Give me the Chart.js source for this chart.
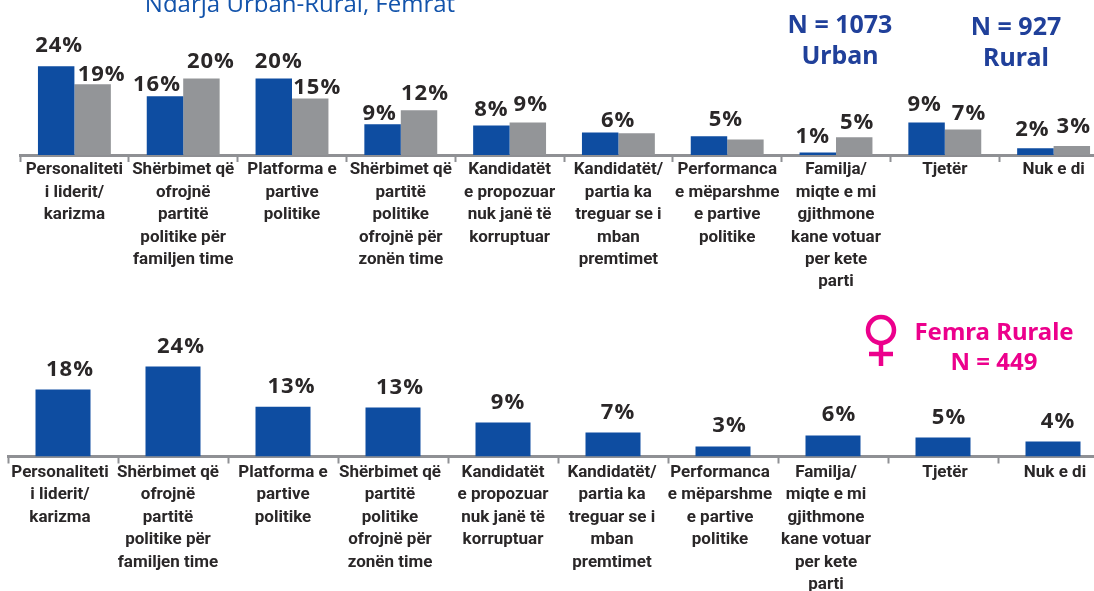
<!DOCTYPE html>
<html><head><meta charset="utf-8">
<script src="https://cdn.jsdelivr.net/npm/chart.js@4"></script>
<style>
html,body{margin:0;padding:0;background:#fff;overflow:hidden;width:1094px;height:591px}
#wrap{position:relative;width:1094px;height:591px;overflow:hidden}
canvas{position:absolute;left:0}
.t{position:absolute;transform:translate(-50%,-50%);white-space:nowrap;font-family:"Noto Sans",sans-serif}
.n{font-weight:700;font-size:25px;color:#20409a}
.p{font-weight:700;font-size:24px;color:#ec008c}
</style></head><body>
<div id="wrap">
<div style="position:absolute;left:0;top:0;width:1094px;height:300px"><canvas id="c1"></canvas></div>
<div style="position:absolute;left:0;top:300px;width:1094px;height:291px"><canvas id="c2"></canvas></div>
<div class="t" style="left:300px;top:2px;font-size:24px;color:#1253ab;font-family:'Open Sans'">Ndarja Urban-Rural, Femrat</div>
<div class="t n" style="left:840px;top:23px">N = 1073</div>
<div class="t n" style="left:840px;top:54px">Urban</div>
<div class="t n" style="left:1016px;top:25px">N = 927</div>
<div class="t n" style="left:1016px;top:56px">Rural</div>
<div class="t p" style="left:994px;top:330px">Femra Rurale</div>
<div class="t p" style="left:994px;top:360px">N = 449</div>
<svg style="position:absolute;left:860px;top:310px" width="44" height="62"><g fill="none" stroke="#ec008c" stroke-width="4.5"><circle cx="21" cy="20" r="13"/><path d="M21 33V56M9 44H33"/></g></svg>
</div>
<script>
const categoriesTop = [
 ["Personaliteti","i liderit/","karizma"],
 ["Shërbimet që","ofrojnë","partitë","politike për","familjen time"],
 ["Platforma e","partive","politike"],
 ["Shërbimet që","partitë","politike","ofrojnë për","zonën time"],
 ["Kandidatët","e propozuar","nuk janë të","korruptuar"],
 ["Kandidatët/","partia ka","treguar se i","mban","premtimet"],
 ["Performanca","e mëparshme","e partive","politike"],
 ["Familja/","miqte e mi","gjithmone","kane votuar","per kete","parti"],
 ["Tjetër"],
 ["Nuk e di"]
];
const urbanValues = [24,15.9,20.7,8.3,8,6.1,5.1,0.7,8.8,1.8];
const ruralValues = [19.1,20.7,15.3,12.1,8.8,5.9,4.2,4.8,6.9,2.4];
const urbanLabels = ["24%","16%","20%","9%","8%","6%","5%","1%","9%","2%"];
const ruralLabels = ["19%","20%","15%","12%","9%","","","5%","7%","3%"];
const femraValues = [17.9,24,13.3,13.1,9.1,6.4,2.7,5.6,5.1,4];
const femraLabels = ["18%","24%","13%","13%","9%","7%","3%","6%","5%","4%"];

const C_BLUE="#0e4da1", C_GREY="#939598", C_AXIS="#8f9094", C_TEXT="#2a2728";
const tickFont={family:"Roboto",weight:"700",size:17,lineHeight:"22.4px"};
const placeTop=[
 {dx:[3,-8,5,-3,0,18,17,-5,-2,-3],gap:[20,11,17,11,16,12,16,16,18,19],txt:urbanLabels},
 {dx:[9,9.5,7,6,3,0,0,3,6,2],gap:[10,17,11,16,18,0,0,15,16,19],txt:ruralLabels}
];
const placeBot=[{dx:[7,8,8.5,7,5,5,6.5,6,6,5],gap:[20,20,20,20,20,20,21,21,20,20],txt:femraLabels}];

function valuePlugin(place){return{id:"vals",afterDatasetsDraw(ch){
  const g=ch.ctx;g.save();g.font="700 22px 'Open Sans'";g.fillStyle=C_TEXT;g.textAlign="center";g.textBaseline="middle";
  if("letterSpacing" in g)g.letterSpacing="1px";
  place.forEach((p,d)=>ch.getDatasetMeta(d).data.forEach((b,i)=>{
    if(p.txt[i])g.fillText(p.txt[i],b.x+p.dx[i],b.y-p.gap[i]);
  }));
  g.restore();
}}}
function shiftLabels(off){return{id:"shift",beforeDraw(ch){
  if(ch.$sh)return;ch.$sh=1;
  ch.scales.x.getLabelItems().forEach((it,i)=>{it.options.translation[0]+=off[i]||0;});
}}}
function make(id,w,h,left,right,base,unit,cats,datasets,barOpts,plugins,pad){
  const c=document.getElementById(id);c.width=w;c.height=h;c.style.width=w+"px";c.style.height=h+"px";
  return new Chart(c,{type:"bar",data:{labels:cats,datasets},plugins,options:{
    responsive:false,animation:false,events:[],
    layout:{padding:{left,right,top:0,bottom:0}},
    plugins:{legend:{display:false},tooltip:{enabled:false},title:{display:false}},
    datasets:{bar:Object.assign({borderWidth:0},barOpts)},
    scales:{
      y:{display:false,min:0,max:base/unit},
      x:{
        afterFit(s){s.height=h-base;},
        border:{display:true,color:C_AXIS,width:3},
        grid:{display:true,drawOnChartArea:false,drawTicks:true,offset:true,tickLength:7,tickWidth:2,tickColor:C_AXIS,color:C_AXIS},
        ticks:{font:tickFont,color:C_TEXT,maxRotation:0,minRotation:0,autoSkip:false,padding:pad}
      }
    }
  }});
}
make("c1",1120,300,20,12,155,3.7,categoriesTop,[
  {label:"Urban",data:urbanValues,backgroundColor:C_BLUE},
  {label:"Rural",data:ruralValues,backgroundColor:C_GREY}
],{categoryPercentage:0.67,barPercentage:1},[valuePlugin(placeTop)],-3);
make("c2",1120,291,8,12,156.5,3.75,categoriesTop,[
  {label:"Femra Rurale",data:femraValues,backgroundColor:C_BLUE}
],{categoryPercentage:0.5,barPercentage:1},[valuePlugin(placeBot),shiftLabels([-3,-5,0,-3,0,-1,-3,-7,2,2])],-2);
</script>
</body></html>
